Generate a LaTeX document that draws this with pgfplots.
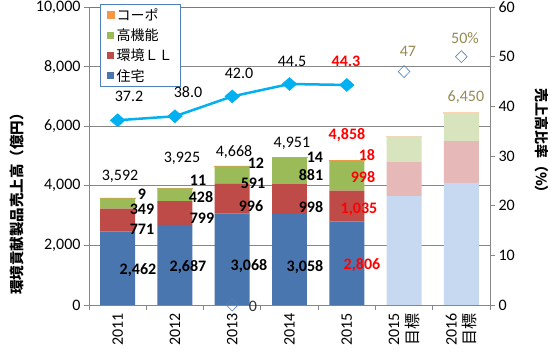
\documentclass[border=0pt]{standalone}
\usepackage{fontspec}
\setmainfont{Carlito}
\newfontfamily\jp{Noto Sans CJK JP}
\usepackage{pgfplots}
\usepackage{pgfplotstable}
\pgfplotsset{compat=1.18}

\definecolor{cBlue}{HTML}{4A76AF}
\definecolor{cRed}{HTML}{BE4B48}
\definecolor{cGreen}{HTML}{9BBB59}
\definecolor{cOrange}{HTML}{F79646}
\definecolor{tBlue}{HTML}{C6D9F1}
\definecolor{tRed}{HTML}{E6B9B8}
\definecolor{tGreen}{HTML}{D7E4BD}
\definecolor{tOrange}{HTML}{FCD5B5}
\definecolor{cLine}{HTML}{00B0F0}
\definecolor{cTan}{HTML}{948A54}
\definecolor{cGrid}{HTML}{868686}
\definecolor{cLeg}{HTML}{4F81BD}

\pgfplotsset{sqleg/.style={legend image code/.code={\fill[##1] (0pt,-3.6pt) rectangle (7.2pt,3.6pt);}}}

\newcommand{\lf}{\fontsize{16}{19}\selectfont}
\newcommand{\nb}[3]{\node[font=\lf\bfseries] at (axis cs:#1,#2) {#3};}
\newcommand{\nr}[3]{\node[font=\lf\bfseries, text=red] at (axis cs:#1,#2) {#3};}
\newcommand{\nn}[3]{\node[font=\lf] at (axis cs:#1,#2) {#3};}

\pgfplotstableread{
x jutaku ll koki copo tjutaku tll tkoki tcopo
0 2462 771 349 9 0 0 0 0
1 2687 799 428 11 0 0 0 0
2 3068 996 591 12 0 0 0 0
3 3058 998 881 14 0 0 0 0
4 2806 1035 998 18 0 0 0 0
5 0 0 0 0 3650 1160 840 20
6 0 0 0 0 4100 1400 920 30
}\bars

\pgfplotstableread{
x r
0 37.2
1 38.0
2 42.0
3 44.5
4 44.3
}\ratio

\pgfplotstableread{
x r
5 47
6 50
2 0
}\target

\begin{document}
\begin{tikzpicture}
\begin{axis}[
  scale only axis, width=401pt, height=298pt,
  xmin=-0.5, xmax=6.5, ymin=0, ymax=10000,
  ybar stacked, bar width=0.61,
  axis x line*=bottom, axis y line*=left,
  axis line style={cGrid, line width=0.75pt},
  tick style={cGrid, line width=0.75pt},
  major x tick style={draw=none},
  tick align=outside,
  major tick length=5pt, minor tick length=5pt,
  ytick={0,2000,...,10000},
  scaled y ticks=false,
  yticklabel style={font=\lf, /pgf/number format/1000 sep={,}},
  /pgf/number format/assume math mode=true,
  ymajorgrids, grid style={cGrid, line width=0.75pt},
  xtick={0,...,6},
  minor xtick={-0.5,0.5,...,6.5},
  xticklabels={2011,2012,2013,2014,2015,{2015\\\jp 目標},{2016\\\jp 目標}},
  xticklabel style={rotate=90, anchor=east, align=right, font=\lf},
  ylabel={\jp\bfseries 環境貢献製品売上高（億円）},
  ylabel style={font=\fontsize{14.5}{17}\selectfont, at={(axis description cs:-0.18,0.35)}, anchor=center},
  reverse legend,
  legend style={at={(0.028,1.01)}, anchor=north west, draw=cLeg, line width=0.6pt,
    font=\jp\fontsize{14}{16}\selectfont, inner xsep=6pt, inner ysep=2pt, row sep=3pt, legend cell align=left},
  clip=false,
]
\coordinate (bl) at (rel axis cs:0,0);
\coordinate (tr) at (rel axis cs:1,1);
\addplot[fill=cBlue, draw=none, sqleg] table[x=x,y=jutaku] {\bars};
\addlegendentry{住宅}
\addplot[fill=cRed, draw=none, sqleg] table[x=x,y=ll] {\bars};
\addlegendentry{環境ＬＬ}
\addplot[fill=cGreen, draw=none, sqleg] table[x=x,y=koki] {\bars};
\addlegendentry{高機能}
\addplot[fill=cOrange, draw=cOrange, line width=0.8pt, sqleg] table[x=x,y=copo] {\bars};
\addlegendentry{コーポ}
\addplot[fill=tBlue, draw=none, forget plot] table[x=x,y=tjutaku] {\bars};
\addplot[fill=tRed, draw=none, forget plot] table[x=x,y=tll] {\bars};
\addplot[fill=tGreen, draw=none, forget plot] table[x=x,y=tkoki] {\bars};
\addplot[fill=tOrange, draw=tOrange, line width=0.8pt, forget plot] table[x=x,y=tcopo] {\bars};
\draw[cLeg, line width=0.6pt] (rel axis cs:0,1) -- (rel axis cs:1,1);
\end{axis}
\begin{axis}[
  scale only axis, width=401pt, height=298pt,
  xmin=-0.5, xmax=6.5, ymin=0, ymax=60,
  axis x line=none, axis y line*=right,
  axis line style={cGrid, line width=0.75pt},
  tick style={cGrid, line width=0.75pt},
  tick align=outside, major tick length=5pt,
  ytick={0,10,...,60},
  yticklabel style={font=\lf},
  /pgf/number format/assume math mode=true,
  ylabel={\jp\bfseries 売上高比率（\%）},
  ylabel style={font=\fontsize{14}{17}\selectfont, at={(axis description cs:1.13,0.54)}, anchor=center, rotate=180},
  clip=false,
]
\addplot[cLine, line width=2.5pt, mark=diamond*, mark size=6.5pt,
  mark options={xscale=1.5, fill=cLine, draw=cLine, line width=0.5pt}] table[x=x,y=r] {\ratio};
\addplot[only marks, mark=diamond, mark size=6pt,
  mark options={xscale=1.3, draw=cLeg, fill=white, line width=0.6pt}] table[x=x,y=r] {\target};
% bar labels (left-axis values x 0.006)
\nn{0.041}{25.97}{3,592}
\nn{1.123}{29.60}{3,925}
\nn{2.031}{30.81}{4,668}
\nn{3.043}{32.62}{4,951}
\nr{4.003}{34.23}{4,858}
\node[font=\lf, text=cTan] at (axis cs:6.08,41.88) {6,450};
\nb{0.425}{22.35}{9}
\nb{0.425}{19.33}{349}
\nb{0.425}{15.30}{771}
\nb{0.355}{7.05}{2,462}
\nb{1.403}{25.17}{11}
\nb{1.455}{21.75}{428}
\nb{1.472}{17.52}{799}
\nb{1.228}{7.65}{2,687}
\nb{2.415}{28.59}{12}
\nb{2.363}{24.57}{591}
\nb{2.328}{19.93}{996}
\nb{2.293}{7.85}{3,068}
\nb{3.445}{29.80}{14}
\nb{3.375}{26.18}{881}
\nb{3.375}{19.73}{998}
\nb{3.270}{7.65}{3,058}
\nr{4.352}{30.20}{18}
\nr{4.283}{25.78}{998}
\nr{4.213}{19.33}{1,035}
\nr{4.265}{8.05}{2,806}
% ratio labels
\nn{0.198}{42.1}{37.2}
\nn{1.228}{42.9}{38.0}
\nn{2.118}{46.7}{42.0}
\nn{3.043}{49.1}{44.5}
\nr{3.986}{49.1}{44.3}
\node[font=\lf, text=cTan] at (axis cs:5.068,51.1) {47};
\node[font=\lf, text=cTan] at (axis cs:6.063,53.8) {50\%};
\node[font=\lf, text=black!80] at (axis cs:2.363,-0.24) {0};
\end{axis}
\pgfresetboundingbox
\path ([shift={(-89pt,-50pt)}]bl) rectangle ([shift={(60pt,7pt)}]tr);
\end{tikzpicture}
\end{document}
